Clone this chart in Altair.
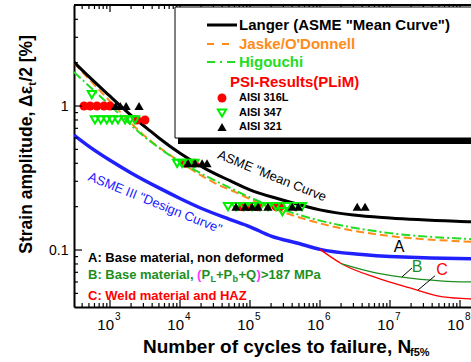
import altair as alt
import pandas as pd

W, H = 397, 302
X_DOMAIN = [306, 1.435e8]
Y_DOMAIN = [0.0402, 5.03]
FONT = "Liberation Sans"

# ---------------- data ----------------
langer_n = [306, 500, 1000, 1300, 2000, 3380, 5000, 1e4, 2.43e4, 5.18e4, 1e5, 2.68e5, 1e6, 3e6, 1e7, 1.44e8, 2e8]
langer_s = [2.02, 1.60, 1.17, 1.04, 0.86, 0.70, 0.60, 0.47, 0.362, 0.303, 0.262, 0.225, 0.190, 0.175, 0.167, 0.157, 0.156]

jaske_n = [306, 1000, 3000, 1e4, 1.8e4, 3e4, 6.1e4, 1e5, 2.68e5, 1e6, 1.93e6, 1e7, 1.44e8, 2e8]
jaske_s = [1.99, 1.08, 0.63, 0.41, 0.34, 0.295, 0.253, 0.226, 0.187, 0.153, 0.142, 0.125, 0.114, 0.113]

higo_n = [306, 1000, 3000, 1e4, 2e4, 6.1e4, 1e5, 3e5, 1e6, 3e6, 1e7, 1.44e8, 2e8]
higo_s = [1.72, 1.01, 0.62, 0.41, 0.34, 0.26, 0.232, 0.19, 0.160, 0.143, 0.131, 0.119, 0.118]

design_n = [306, 500, 1000, 2000, 5000, 1e4, 2e4, 5e4, 1e5, 2e5, 5e5, 1e6, 4e6, 1e7, 1.44e8, 2e8]
design_s = [0.629, 0.525, 0.42, 0.343, 0.27, 0.228, 0.195, 0.164, 0.145, 0.125, 0.111, 0.101, 0.093, 0.090, 0.087, 0.087]

curveB_n = [2.06e6, 6.5e6, 1.39e7, 5.7e7, 1.44e8, 2e8]
curveB_s = [0.080, 0.069, 0.065, 0.0609, 0.060, 0.0598]

curveC_n = [1e6, 2.06e6, 6.5e6, 1.93e7, 5.7e7, 1.44e8, 2e8]
curveC_s = [0.101, 0.080, 0.064, 0.0545, 0.0472, 0.0457, 0.0455]

leaderB_n = [1.48e7, 2.06e7]
leaderB_s = [0.065, 0.075]
leaderC_n = [2.51e7, 4.39e7]
leaderC_s = [0.0527, 0.0662]

aisi316_n = [425, 520, 650, 820, 1000, 2430, 3160, 12000, 16000, 7.7e4, 9.4e4, 1.3e5, 2.35e5, 2.7e5]
aisi316_s = [1.0, 1.0, 1.0, 1.0, 1.0, 0.8, 0.8, 0.4, 0.4, 0.2, 0.2, 0.2, 0.2, 0.2]

aisi347_n = [550, 610, 740, 900, 1070, 1300, 1640, 1930, 2270, 9100, 10700, 13000, 16000,
             4.85e4, 6.3e4, 8.2e4, 1.07e5, 1.39e5, 1.81e5, 2.35e5, 2.9e5, 3.38e5, 4.54e5, 5.53e5]
aisi347_s = [1.2, 0.8, 0.8, 0.8, 0.8, 0.8, 0.8, 0.8, 0.8, 0.4, 0.4, 0.4, 0.4,
             0.2, 0.2, 0.2, 0.2, 0.2, 0.2, 0.2, 0.185, 0.2, 0.2, 0.2]

aisi321_n = [1200, 1400, 1700, 2600, 13000, 16400, 20700, 24300,
             6.3e4, 8.5e4, 1.07e5, 1.3e5, 1.8e5, 4.0e5, 4.9e5, 3.4e6, 4.4e6]
aisi321_s = [1.0, 1.0, 1.0, 1.0, 0.4, 0.4, 0.4, 0.4,
             0.2, 0.2, 0.2, 0.2, 0.2, 0.2, 0.2, 0.2, 0.2]

x_major = [1e3, 1e4, 1e5, 1e6, 1e7, 1e8]
x_exponents = ["3", "4", "5", "6", "7", "8"]
x_minor = [m * 10 ** k for k in range(2, 8) for m in range(2, 10)
           if X_DOMAIN[0] <= m * 10 ** k <= X_DOMAIN[1]]
y_major = [0.1, 1]
y_minor = [0.05, 0.06, 0.07, 0.08, 0.09, 0.2, 0.3, 0.4, 0.5, 0.6, 0.7, 0.8, 0.9, 2, 3, 4, 5]

# ---------------- scales / helpers ----------------
xs = alt.Scale(type="log", domain=X_DOMAIN, nice=False, zero=False)
ys = alt.Scale(type="log", domain=Y_DOMAIN, nice=False, zero=False)
x_axis = alt.Axis(labels=False, ticks=False, domain=True, domainColor="black",
                  domainWidth=2, grid=False, title=None)
y_axis = alt.Axis(values=y_major, labelExpr="datum.value < 0.5 ? '0.1' : '1'",
                  ticks=False, labelPadding=6, labelFontSize=14, labelFont=FONT,
                  labelColor="black", domainColor="black", domainWidth=2,
                  grid=False, title=None)


def X(f):
    return alt.X(f, type="quantitative", scale=xs, axis=x_axis)


def Y(f):
    return alt.Y(f, type="quantitative", scale=ys, axis=y_axis)


one = pd.DataFrame({"a": [0]})


def curve(n, s, color, width, dash=None):
    kw = dict(color=color, strokeWidth=width, clip=True, interpolate="monotone")
    if dash:
        kw["strokeDash"] = dash
    return alt.Chart(pd.DataFrame({"n": n, "s": s})).mark_line(**kw).encode(x=X("n"), y=Y("s"))


def seg(n, s, color, width=1):
    return alt.Chart(pd.DataFrame({"n": n, "s": s})).mark_line(
        color=color, strokeWidth=width, clip=True).encode(x=X("n"), y=Y("s"))


def dtext(txt, n, s, size, color, weight="normal", align="center", angle=0, dx=0, dy=0):
    kw = dict(text=txt, align=align, baseline="middle", font=FONT, fontSize=size,
              fontWeight=weight, color=color, dx=dx, dy=dy)
    if angle:
        kw["angle"] = angle
    return alt.Chart(pd.DataFrame({"n": [n], "s": [s]})).mark_text(**kw).encode(x=X("n"), y=Y("s"))


def ptext(txt, x, y, size, color, weight="bold", align="left", angle=0):
    kw = dict(text=txt, align=align, baseline="middle", font=FONT, fontSize=size,
              fontWeight=weight, color=color)
    if angle:
        kw["angle"] = angle
    return alt.Chart(one).mark_text(**kw).encode(x=alt.value(x), y=alt.value(y))


def prule(x, x2, y, y2, color, width, dash=None):
    kw = dict(color=color, strokeWidth=width)
    if dash:
        kw["strokeDash"] = dash
    return alt.Chart(one).mark_rule(**kw).encode(
        x=alt.value(x), x2=alt.value(x2), y=alt.value(y), y2=alt.value(y2))


BLACK = "#000000"
ORANGE = "#ff8c1a"
LGREEN = "#22dd22"
TGREEN = "#00ee00"
DGREEN = "#1e8f1e"
RED = "#ff0000"
BLUE = "#2020ff"
MAGENTA = "#ff33ff"

layers = []

# ---- curves
layers.append(curve(design_n, design_s, BLUE, 3.5))
layers.append(curve(curveC_n, curveC_s, RED, 1.3))
layers.append(curve(curveB_n, curveB_s, DGREEN, 1.3))
layers.append(curve(jaske_n, jaske_s, ORANGE, 2, [8, 4]))
layers.append(curve(higo_n, higo_s, LGREEN, 2, [9, 3, 2, 3]))
layers.append(curve(langer_n, langer_s, BLACK, 3))
layers.append(seg(leaderB_n, leaderB_s, BLACK))
layers.append(seg(leaderC_n, leaderC_s, BLACK))

# ---- markers
layers.append(alt.Chart(pd.DataFrame({"n": aisi316_n, "s": aisi316_s})).mark_point(
    shape="circle", filled=True, color=RED, size=80, opacity=1).encode(x=X("n"), y=Y("s")))
layers.append(alt.Chart(pd.DataFrame({"n": aisi347_n, "s": aisi347_s})).mark_point(
    shape="triangle-down", filled=False, color=TGREEN, strokeWidth=2, size=70, opacity=1).encode(x=X("n"), y=Y("s")))
layers.append(alt.Chart(pd.DataFrame({"n": aisi321_n, "s": aisi321_s})).mark_point(
    shape="triangle-up", filled=True, color=BLACK, size=85, opacity=1).encode(x=X("n"), y=Y("s")))

# ---- ticks (inward)
layers.append(alt.Chart(pd.DataFrame({"s": y_major})).mark_rule(color=BLACK, strokeWidth=1.2).encode(
    y=Y("s"), x=alt.value(0), x2=alt.value(8)))
layers.append(alt.Chart(pd.DataFrame({"s": y_minor})).mark_rule(color=BLACK, strokeWidth=1.2).encode(
    y=Y("s"), x=alt.value(0), x2=alt.value(4)))
layers.append(alt.Chart(pd.DataFrame({"n": x_major})).mark_rule(color=BLACK, strokeWidth=1.2).encode(
    x=X("n"), y=alt.value(H), y2=alt.value(H - 7)))
layers.append(alt.Chart(pd.DataFrame({"n": x_minor})).mark_rule(color=BLACK, strokeWidth=1.2).encode(
    x=X("n"), y=alt.value(H), y2=alt.value(H - 4)))
layers.append(alt.Chart(pd.DataFrame({"n": x_major})).mark_rule(color=BLACK, strokeWidth=1.2).encode(
    x=X("n"), y=alt.value(0), y2=alt.value(7)))
layers.append(alt.Chart(pd.DataFrame({"n": x_minor})).mark_rule(color=BLACK, strokeWidth=1.2).encode(
    x=X("n"), y=alt.value(0), y2=alt.value(4)))
layers.append(prule(0, W, 0, 0, BLACK, 2))

# ---- x tick labels 10^k
xl = pd.DataFrame({"n": x_major, "e": x_exponents})
layers.append(alt.Chart(xl).mark_text(text="10", align="right", baseline="middle", font=FONT,
                                       fontSize=15, color=BLACK, dx=4).encode(x=X("n"), y=alt.value(320)))
layers.append(alt.Chart(xl).mark_text(align="left", baseline="middle", font=FONT,
                                       fontSize=10, color=BLACK, dx=5).encode(
    x=X("n"), y=alt.value(312), text="e:N"))

# ---- curve annotations
layers.append(dtext('ASME "Mean Curve', 2.06e5, 0.326, 13, BLACK, angle=22))
layers.append(dtext('ASME III "Design Curve"', 4.4e3, 0.212, 13, BLUE, angle=22))
layers.append(dtext("A", 1.35e7, 0.105, 16, BLACK))
layers.append(dtext("B", 2.43e7, 0.0763, 16, DGREEN))
layers.append(dtext("C", 5.53e7, 0.0726, 16, RED))

# ---- bottom-left notes
NX = 485
layers.append(dtext("A: Base material, non deformed", NX, 0.088, 13, BLACK, weight="bold", align="left"))
b_pieces = [
    ("B: Base material, ", 0, 0, 13, DGREEN),
    ("(", 109, 0, 13, MAGENTA),
    ("P", 113.5, 0, 13, DGREEN),
    ("L", 122.5, 4, 9, DGREEN),
    ("+P", 128, 0, 13, DGREEN),
    ("b", 144.5, 4, 9, DGREEN),
    ("+Q", 150.5, 0, 13, DGREEN),
    (")", 168.5, 0, 13, MAGENTA),
    (">187 MPa", 173, 0, 13, DGREEN),
]
for txt, dx, dy, sz, col in b_pieces:
    layers.append(dtext(txt, NX, 0.067, sz, col, weight="bold", align="left", dx=dx, dy=dy))
layers.append(dtext("C: Weld material and HAZ", NX, 0.0479, 13, RED, weight="bold", align="left"))

# ---- legend box
layers.append(alt.Chart(one).mark_rect(fill="white", stroke=BLACK, strokeWidth=1).encode(
    x=alt.value(101), x2=alt.value(W + 30), y=alt.value(2), y2=alt.value(133)))
layers.append(alt.Chart(one).mark_rect(fill=BLACK).encode(
    x=alt.value(104), x2=alt.value(W + 30), y=alt.value(133), y2=alt.value(139)))
layers.append(prule(133, 163, 20, 20, BLACK, 3))
layers.append(prule(133, 163, 39, 39, ORANGE, 2, [7, 8]))
layers.append(prule(133, 163, 57, 57, LGREEN, 2, [8, 5, 2, 5]))
layers.append(ptext('Langer (ASME "Mean Curve")', 165, 20, 15, BLACK))
layers.append(ptext("Jaske/O'Donnell", 165, 39, 15, ORANGE))
layers.append(ptext("Higouchi", 165, 57, 15, LGREEN))
layers.append(ptext("PSI-Results(PLiM)", 156, 77, 15, RED))
layers.append(alt.Chart(one).mark_point(shape="circle", filled=True, color=RED, size=80, opacity=1).encode(
    x=alt.value(148), y=alt.value(93)))
layers.append(alt.Chart(one).mark_point(shape="triangle-down", filled=False, color=TGREEN, strokeWidth=2,
                                        size=70, opacity=1).encode(x=alt.value(148), y=alt.value(108)))
layers.append(alt.Chart(one).mark_point(shape="triangle-up", filled=True, color=BLACK, size=85,
                                        opacity=1).encode(x=alt.value(148), y=alt.value(122)))
layers.append(ptext("AISI 316L", 165, 93, 11, BLACK))
layers.append(ptext("AISI 347", 165, 108, 11, BLACK))
layers.append(ptext("AISI 321", 165, 122, 11, BLACK))

# ---- axis titles (y title anchored from its top end)
layers.append(ptext("/2 [%]", -47, 30, 17.5, BLACK, align="right", angle=270))
layers.append(ptext("t", -41, 77, 11, BLACK, align="right", angle=270))
layers.append(ptext("Strain amplitude, Δε", -47, 81, 17.5, BLACK, align="right", angle=270))
layers.append(ptext("Number of cycles to failure, N", 69, 342, 19, BLACK))
layers.append(ptext("f5%", 336, 348, 11, BLACK))

chart = alt.layer(*layers).properties(
    width=W, height=H,
    padding={"left": 74, "top": 5, "right": 0, "bottom": 55},
    autosize=alt.AutoSizeParams(type="none"),
).configure_view(stroke=None)

chart.save("out.html", embed_options={"renderer": "svg", "actions": False})
